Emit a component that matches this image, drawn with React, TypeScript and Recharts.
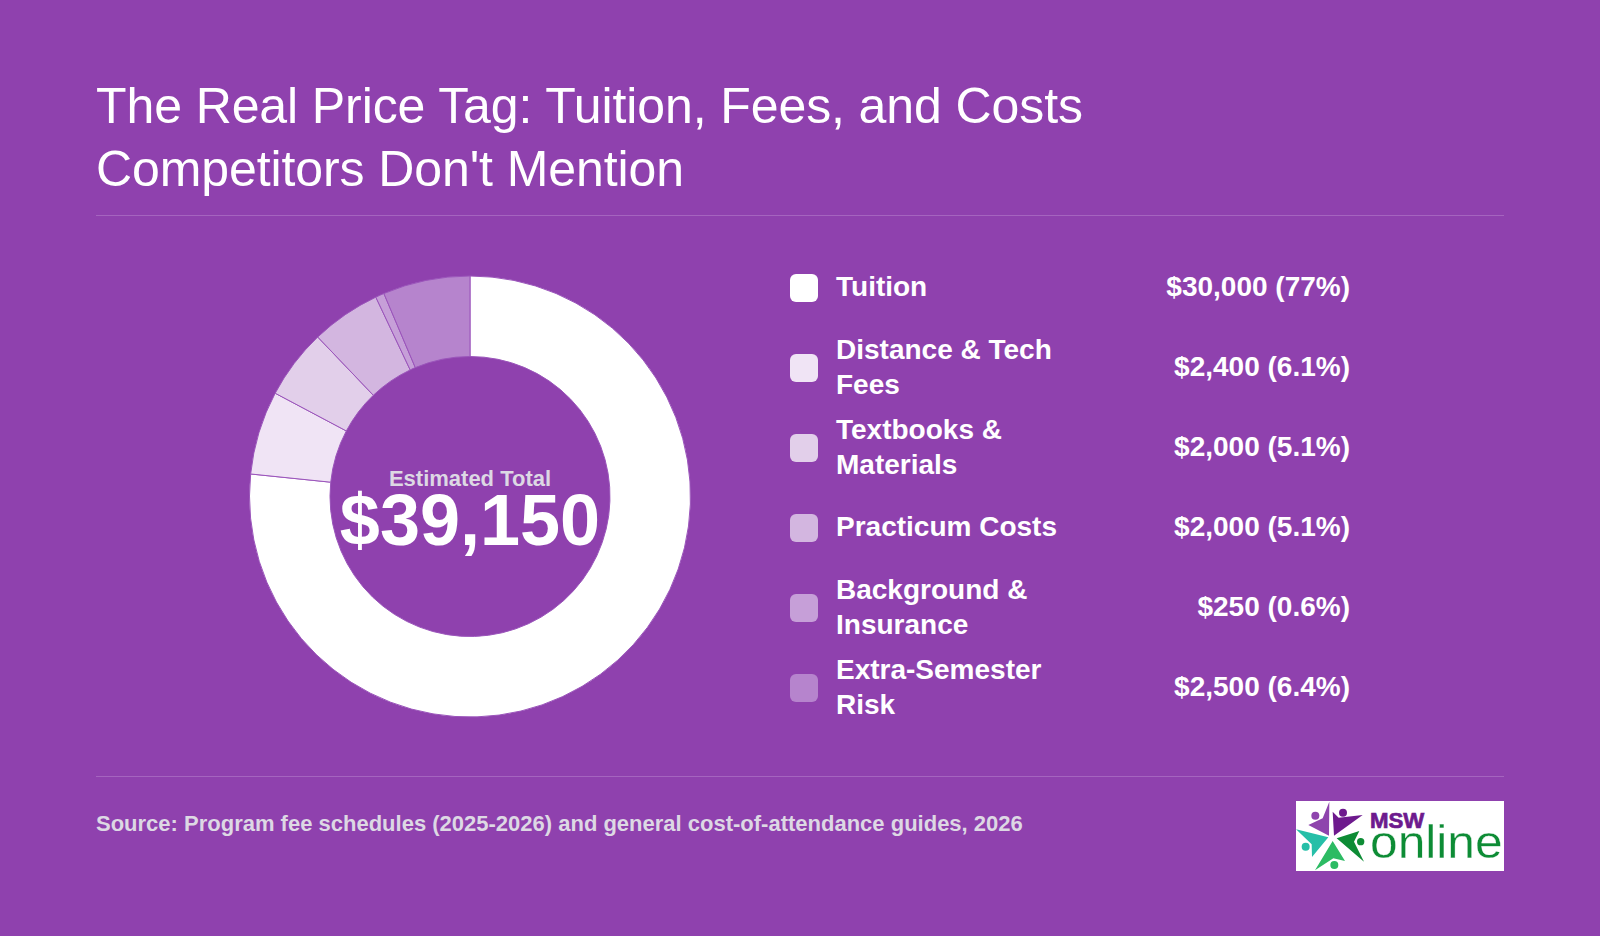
import { PieChart, Pie, Cell } from "recharts";

const categories = ["Tuition", "Distance & Tech Fees", "Textbooks & Materials", "Practicum Costs", "Background & Insurance", "Extra-Semester Risk"];
const nameLines = [["Tuition"], ["Distance & Tech", "Fees"], ["Textbooks &", "Materials"], ["Practicum Costs"], ["Background &", "Insurance"], ["Extra-Semester", "Risk"]];
const amounts = [30000, 2400, 2000, 2000, 250, 2500];
const valueLabels = ["$30,000 (77%)", "$2,400 (6.1%)", "$2,000 (5.1%)", "$2,000 (5.1%)", "$250 (0.6%)", "$2,500 (6.4%)"];
const colors = ["#FFFFFF", "#F0E4F5", "#E2CFEA", "#D3B6E0", "#C69FD8", "#B684CD"];

const pieData = categories.map((name, i) => ({ name, value: amounts[i] }));

const BG = "#8F41AE";
const RULE = "#A564BF";
const MUTED = "#DDD8E4";
const FONT = "'Liberation Sans', Arial, sans-serif";

function Logo() {
  return (
    <svg style={{ position: "absolute", left: 1296, top: 801 }} width={208} height={70} viewBox="18 18 624 210">
      <rect x={18} y={18} width={624} height={210} fill="#fff" />
      <polygon points="118,20 117,122 55,90 98,70" fill="#8E44AD" />
      <circle cx={76} cy={62} r={12} fill="#8E44AD" />
      <polygon points="128,50 146,68 218,60 132,122" fill="#6D1A8D" />
      <circle cx={159} cy={53} r={12} fill="#6D1A8D" />
      <polygon points="18,103 115,127 66,186 65,148" fill="#26BFA8" />
      <circle cx={47} cy={155} r={12} fill="#26BFA8" />
      <polygon points="128,138 165,198 130,190 75,226" fill="#2CBB63" />
      <circle cx={133} cy={210} r={12} fill="#2CBB63" />
      <polygon points="140,130 208,108 192,140 222,200" fill="#0D8C35" />
      <circle cx={212} cy={140} r={11} fill="#0D8C35" />
      <text x={240} y={100} fontFamily={FONT} fontWeight={700} fontSize={64} fill="#6D1A8D" stroke="#6D1A8D" strokeWidth={2} textLength={163} lengthAdjust="spacingAndGlyphs">MSW</text>
      <text x={240} y={188} fontFamily={FONT} fontSize={141} fill="#0D8C35" stroke="#fff" strokeWidth={1} textLength={398} lengthAdjust="spacingAndGlyphs">online</text>
    </svg>
  );
}

export default function App() {
  return (
    <div style={{ position: "absolute", left: 0, top: 0, width: 1600, height: 936, background: BG, fontFamily: FONT, color: "#fff", overflow: "hidden" }}>
      <div style={{ position: "absolute", left: 96, top: 75, fontSize: 50, lineHeight: "63px", letterSpacing: -0.1, whiteSpace: "nowrap" }}>
        The Real Price Tag: Tuition, Fees, and Costs
        <br />
        Competitors Don't Mention
      </div>
      <div style={{ position: "absolute", left: 96, top: 215, width: 1408, height: 1, background: RULE }} />

      <div style={{ position: "absolute", left: 240, top: 266 }}>
        <PieChart width={460} height={460} margin={{ top: 0, right: 0, bottom: 0, left: 0 }}>
          <Pie
            data={pieData}
            dataKey="value"
            nameKey="name"
            cx={230}
            cy={230.5}
            innerRadius={140}
            outerRadius={220.5}
            startAngle={90}
            endAngle={-270}
            stroke="#9B55BB"
            strokeWidth={1}
            isAnimationActive={false}
          >
            {pieData.map((d, i) => (
              <Cell key={d.name} fill={colors[i]} />
            ))}
          </Pie>
        </PieChart>
      </div>
      <div style={{ position: "absolute", left: 330, width: 280, top: 468, textAlign: "center", fontSize: 22, lineHeight: "22px", fontWeight: 700, color: MUTED }}>
        Estimated Total
      </div>
      <div style={{ position: "absolute", left: 330, width: 280, top: 490, textAlign: "center", fontSize: 72, lineHeight: "60px", fontWeight: 700 }}>
        $39,150
      </div>

      {categories.map((name, i) => {
        const cy = 287 + i * 80;
        const single = nameLines[i].length === 1;
        return (
          <div key={name}>
            <div style={{ position: "absolute", left: 790, top: cy - 13, width: 28, height: 28, borderRadius: 6, background: colors[i] }} />
            <div style={{ position: "absolute", left: 836, top: cy - (nameLines[i].length * 35) / 2 - (single ? 1 : 0), fontSize: 28, lineHeight: "35px", fontWeight: 700, whiteSpace: "nowrap" }}>
              {nameLines[i].map((line) => (
                <div key={line}>{line}</div>
              ))}
            </div>
            <div style={{ position: "absolute", right: 250, top: cy - 18, fontSize: 28, lineHeight: "35px", fontWeight: 700, whiteSpace: "nowrap" }}>
              {valueLabels[i]}
            </div>
          </div>
        );
      })}

      <div style={{ position: "absolute", left: 96, top: 776, width: 1408, height: 1, background: RULE }} />
      <div style={{ position: "absolute", left: 96, top: 811, fontSize: 22, lineHeight: "26px", fontWeight: 700, color: MUTED, whiteSpace: "nowrap" }}>
        Source: Program fee schedules (2025-2026) and general cost-of-attendance guides, 2026
      </div>
      <Logo />
    </div>
  );
}
